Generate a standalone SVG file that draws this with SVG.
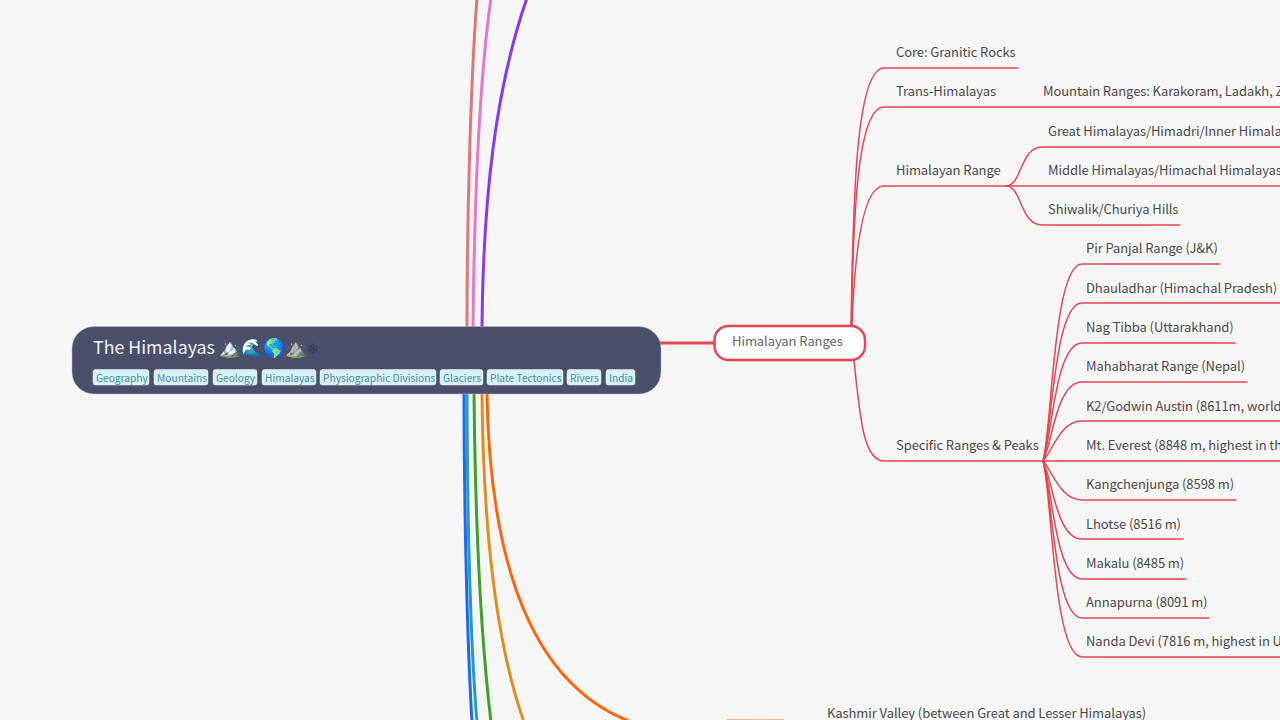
<svg xmlns="http://www.w3.org/2000/svg" width="1280" height="720" viewBox="0 0 1280 720">
<style>
text{font-family:"Noto Sans CJK SC","Noto Sans",sans-serif}
.l{font-size:13px;letter-spacing:-.08px;fill:#4a4a4a}
.c{fill:none;stroke-linecap:round}
.b{stroke:#e64553;stroke-width:1.5}
.t{fill:#d8f1f6;stroke:#e8f4f8;stroke-width:.5}
.g{font-size:10.200px;fill:#4a8ca2}
</style>
<rect width="1280" height="720" fill="#f6f6f6"/>
<g id="connectors">
<path class="c" stroke="#dd7878" stroke-width="3" d="M467,330C467,230 470,90 477,-2"/>
<path class="c" stroke="#ea76cb" stroke-width="3" d="M473,330C474,230 478,90 491,-2"/>
<path class="c" stroke="#8839ef" stroke-width="3" d="M482,330C483,200 495,90 527,-2"/>
<path class="c" stroke="#1e66f5" stroke-width="3" d="M464,390C464,500 467,640 472,722"/>
<path class="c" stroke="#209fb5" stroke-width="3" d="M467,390C467,500 470,640 477,722"/>
<path class="c" stroke="#40a02b" stroke-width="3" d="M474,390C475,500 480,630 491,722"/>
<path class="c" stroke="#df8e1d" stroke-width="3" d="M482,390C483,520 495,640 524,722"/>
<path class="c" stroke="#fe640b" stroke-width="3" d="M487,394C490,560 530,690 640,725"/>
<path class="c" stroke="#e64553" stroke-width="3" d="M660,343H715"/>
<path class="c b" d="M851,326C853,200 856,68 884,68H1018"/>
<path class="c b" d="M851.500,326C853,220 857,107 884,107H1282"/>
<path class="c b" d="M852,326C854,270 860,186 884,186H1007"/>
<path class="c b" d="M854,360C860,420 864,461 884,461H1043"/>
<path class="c b" d="M1006,186C1022,186 1020,147 1042,147H1282"/>
<path class="c b" d="M1006,186H1282"/>
<path class="c b" d="M1006,186C1022,186 1020,225 1042,225H1180"/>
<path class="c b" d="M1043,461C1052,430 1053,264 1082,264H1220"/>
<path class="c b" d="M1043,461C1052,432 1054,303 1082,303H1282"/>
<path class="c b" d="M1043,461C1052,438 1055,343 1082,343H1235"/>
<path class="c b" d="M1043,461C1052,445 1056,382 1082,382H1247"/>
<path class="c b" d="M1043,461C1052,452 1060,421 1082,421H1282"/>
<path class="c b" d="M1043,461H1282"/>
<path class="c b" d="M1043,461C1052,470 1060,500 1082,500H1236"/>
<path class="c b" d="M1043,461C1052,477 1056,539 1082,539H1183"/>
<path class="c b" d="M1043,461C1052,484 1055,579 1082,579H1186"/>
<path class="c b" d="M1043,461C1052,490 1054,618 1082,618H1209"/>
<path class="c b" d="M1043,461C1052,492 1053,657 1082,657H1282"/>
</g>
<g id="root">
<rect x="72" y="326.500" width="589" height="67.500" rx="22" fill="#4c4f69" stroke="#b8bac6" stroke-width=".5"/>
<text x="93" y="354" font-size="17.800" fill="#eff1f5">The Himalayas 🏔️🌊🌎⛰️<tspan fill="#3a3c4e" font-family="DejaVu Sans" font-size="15">❄</tspan></text>
<g id="tags">
<rect class="t" x="93" y="369.500" width="56" height="15.500" rx="2.500"/><text class="g" x="96" y="382">Geography</text>
<rect class="t" x="154" y="369.500" width="54" height="15.500" rx="2.500"/><text class="g" x="157" y="382">Mountains</text>
<rect class="t" x="213" y="369.500" width="44" height="15.500" rx="2.500"/><text class="g" x="216" y="382">Geology</text>
<rect class="t" x="262" y="369.500" width="54" height="15.500" rx="2.500"/><text class="g" x="265" y="382">Himalayas</text>
<rect class="t" x="320" y="369.500" width="116" height="15.500" rx="2.500"/><text class="g" x="323" y="382">Physiographic Divisions</text>
<rect class="t" x="440" y="369.500" width="43" height="15.500" rx="2.500"/><text class="g" x="443" y="382">Glaciers</text>
<rect class="t" x="487" y="369.500" width="76" height="15.500" rx="2.500"/><text class="g" x="490" y="382">Plate Tectonics</text>
<rect class="t" x="567" y="369.500" width="34" height="15.500" rx="2.500"/><text class="g" x="570" y="382">Rivers</text>
<rect class="t" x="606" y="369.500" width="29" height="15.500" rx="2.500"/><text class="g" x="609" y="382">India</text>
</g>
</g>
<g id="himalayan-ranges">
<rect x="714.500" y="326" width="150.500" height="34" rx="14" fill="#fff" stroke="#e64553" stroke-width="2.500"/>
<text x="732" y="346" class="l" style="fill:#666">Himalayan Ranges</text>
</g>
<g id="labels">
<text class="l" x="896" y="57">Core: Granitic Rocks</text>
<text class="l" x="896" y="96">Trans-Himalayas</text>
<text class="l" x="1043" y="96">Mountain Ranges: Karakoram, Ladakh, Zaskar</text>
<text class="l" x="896" y="175">Himalayan Range</text>
<text class="l" x="1048" y="136">Great Himalayas/Himadri/Inner Himalayas</text>
<text class="l" x="1048" y="175">Middle Himalayas/Himachal Himalayas</text>
<text class="l" x="1048" y="214">Shiwalik/Churiya Hills</text>
<text class="l" x="896" y="450">Specific Ranges &amp; Peaks</text>
<text class="l" x="1086" y="253">Pir Panjal Range (J&amp;K)</text>
<text class="l" x="1086" y="293">Dhauladhar (Himachal Pradesh)</text>
<text class="l" x="1086" y="332">Nag Tibba (Uttarakhand)</text>
<text class="l" x="1086" y="371">Mahabharat Range (Nepal)</text>
<text class="l" x="1086" y="411">K2/Godwin Austin (8611m, world's second highest)</text>
<text class="l" x="1086" y="450">Mt. Everest (8848 m, highest in the world)</text>
<text class="l" x="1086" y="489">Kangchenjunga (8598 m)</text>
<text class="l" x="1086" y="529">Lhotse (8516 m)</text>
<text class="l" x="1086" y="568">Makalu (8485 m)</text>
<text class="l" x="1086" y="607">Annapurna (8091 m)</text>
<text class="l" x="1086" y="646">Nanda Devi (7816 m, highest in Uttarakhand)</text>
<text class="l" x="827" y="718">Kashmir Valley (between Great and Lesser Himalayas)</text>
</g>
<g id="bottom-node"><rect x="726" y="719.750" width="59" height="10" rx="3" fill="#fff" stroke="#fbb48c" stroke-width="1.500"/></g>
</svg>
